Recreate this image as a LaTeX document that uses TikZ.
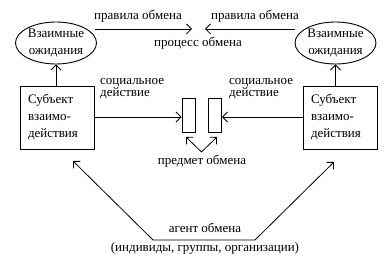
\documentclass[tikz,border=0pt]{standalone}
\usepackage{fontspec}
\setmainfont{Liberation Serif}
\usetikzlibrary{arrows.meta,shapes.geometric}
\begin{document}
\begin{tikzpicture}[x=1pt,y=-1pt,
  every node/.style={font=\fontsize{13}{17}\selectfont, inner sep=0pt},
  ell/.style={draw, ellipse, minimum width=81pt, minimum height=42pt, align=center, line width=0.9pt},
  subj/.style={draw, rectangle, minimum width=74pt, minimum height=63pt, text width=58pt, align=left, line width=0.9pt},
  obj/.style={draw, rectangle, minimum width=13pt, minimum height=34pt, line width=0.9pt},
  lbl/.style={anchor=base},
  arr/.style={line width=0.8pt, -{Straight Barb[length=5pt,width=10pt,line width=0.8pt]}},
  darr/.style={line width=0.8pt, {Straight Barb[length=5pt,width=10pt,line width=0.8pt]}-{Straight Barb[length=5pt,width=10pt,line width=0.8pt]}}
]
\useasboundingbox[fill=white] (0,0) rectangle (384,259);
% ellipses
\node[ell] (le) at (56,43) {Взаимные\\ожидания};
\node[ell] (re) at (335.5,43) {Взаимные\\ожидания};
% subject boxes
\node[subj] (lb) at (57,117.5) {Субъект\\взаимо-\\действия};
\node[subj] (rb) at (340,117.5) {Субъект\\взаимо-\\действия};
% exchange objects
\node[obj] (o1) at (188.5,115) {};
\node[obj] (o2) at (215,115) {};
% vertical arrows
\draw[arr] (lb.north -| le.south) -- (le.south);
\draw[arr] (rb.north -| re.south) -- (re.south);
% top arrows
\coordinate (lt) at (95,29);
\coordinate (lte) at (192,29);
\coordinate (rt) at (295,29);
\coordinate (rte) at (205,29);
\draw[arr] (lt) -- (lte);
\draw[arr] (rt) -- (rte);
\node[lbl] (pl) at (138,20) {правила обмена};
\node[lbl] (pr) at (255,20) {правила обмена};
\node[lbl] (pp) at (198,47) {процесс обмена};
% social action arrows
\draw[arr] (lb.east |- 0,117) -- (o1.west |- 0,117);
\draw[arr] (rb.west |- 0,117) -- (o2.east |- 0,117);
\node[anchor=base west, align=left, font=\fontsize{13}{11}\selectfont] (sl) at (100,97) {социальное\\действие};
\node[anchor=base west, align=left, font=\fontsize{13}{11}\selectfont] (sr) at (229,97) {социальное\\действие};
% V arrow
\coordinate (vb) at (201.5,152);
\coordinate (va) at (186,137);
\coordinate (vc) at (217,137);
\draw[darr] (va) -- (vb) -- (vc);
\node[lbl] (pm) at (202,165) {предмет обмена};
% agent
\coordinate (ba) at (73,161);
\coordinate (bl) at (153,240);
\coordinate (br) at (255,240);
\coordinate (bc) at (334,162);
\draw[darr] (ba) -- (bl) -- (br) -- (bc);
\node[lbl] (ag) at (205,233) {агент обмена};
\node[lbl] (ig) at (205,252) {(индивиды, группы, организации)};
\end{tikzpicture}
\end{document}
